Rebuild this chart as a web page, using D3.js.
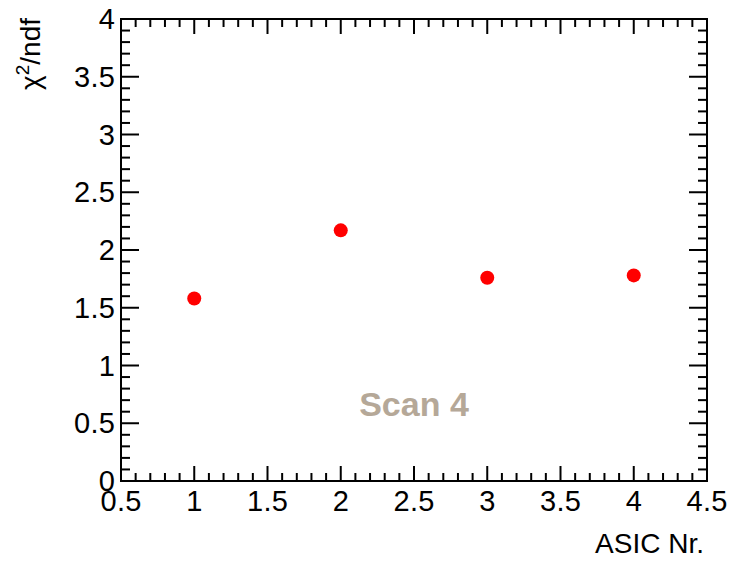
<!DOCTYPE html>
<meta charset="utf-8">
<style>
body { margin: 0; background: white; }
text { font-family: "Liberation Sans", Arial, sans-serif; }
</style>
<body>
<script src="https://d3js.org/d3.v7.min.js"></script>
<script>

var asic = [1, 2, 3, 4];
var chi2ndf = [1.58, 2.17, 1.76, 1.78];
var xTicks = [0.5, 1, 1.5, 2, 2.5, 3, 3.5, 4, 4.5];
var yTicks = [0, 0.5, 1, 1.5, 2, 2.5, 3, 3.5, 4];

var width = 729, height = 561;
var margin = {top: 19, right: 22, bottom: 80, left: 121};

var svg = d3.select("body").append("svg")
    .attr("width", width)
    .attr("height", height);

var x = d3.scaleLinear().domain([0.5, 4.5]).range([margin.left, width - margin.right]);
var y = d3.scaleLinear().domain([0, 4]).range([height - margin.bottom, margin.top]);

var minorX = d3.range(0.5, 4.5001, 0.1);
var minorY = d3.range(0, 4.0001, 0.1);

function isMajor(v) { return Math.abs(v * 2 - Math.round(v * 2)) < 1e-6; }

var ax = svg.append("g").attr("stroke", "black").attr("stroke-width", 2);

// bottom and top ticks
minorX.forEach(function(v) {
  var len = isMajor(v) ? 15 : 8;
  ax.append("line").attr("x1", x(v)).attr("x2", x(v))
    .attr("y1", y(0)).attr("y2", y(0) - len);
  ax.append("line").attr("x1", x(v)).attr("x2", x(v))
    .attr("y1", y(4)).attr("y2", y(4) + len);
});
// left and right ticks
minorY.forEach(function(v) {
  var len = isMajor(v) ? 18 : 9;
  ax.append("line").attr("y1", y(v)).attr("y2", y(v))
    .attr("x1", x(0.5)).attr("x2", x(0.5) + len);
  ax.append("line").attr("y1", y(v)).attr("y2", y(v))
    .attr("x1", x(4.5)).attr("x2", x(4.5) - len);
});

svg.append("rect")
    .attr("x", x(0.5)).attr("y", y(4))
    .attr("width", x(4.5) - x(0.5)).attr("height", y(0) - y(4))
    .attr("fill", "none").attr("stroke", "black").attr("stroke-width", 2);

svg.selectAll(".xl").data(xTicks).enter().append("text")
    .attr("x", function(d) { return x(d); })
    .attr("y", y(0) + 30)
    .attr("text-anchor", "middle")
    .attr("font-size", 29)
    .attr("textLength", function(d) { return d % 1 ? 41 : null; })
    .text(function(d) { return d; });

svg.selectAll(".yl").data(yTicks).enter().append("text")
    .attr("x", x(0.5) - 6)
    .attr("y", function(d) { return y(d) + 10; })
    .attr("text-anchor", "end")
    .attr("font-size", 29)
    .attr("textLength", function(d) { return d % 1 ? 41 : null; })
    .text(function(d) { return d; });

svg.append("text")
    .attr("x", 704)
    .attr("y", 553)
    .attr("text-anchor", "end")
    .attr("font-size", 28)
    .text("ASIC Nr.");

var yl = svg.append("text")
    .attr("transform", "translate(40,18) rotate(-90)")
    .attr("text-anchor", "end")
    .attr("font-size", 28);
yl.append("tspan").text("χ");
yl.append("tspan").attr("font-size", 19).attr("dy", -11).text("2");
yl.append("tspan").attr("dy", 11).text("/ndf");

svg.append("text")
    .attr("x", x(2.5))
    .attr("y", y(0.56))
    .attr("text-anchor", "middle")
    .attr("font-size", 34)
    .attr("font-weight", "bold")
    .attr("fill", "#b5a898")
    .text("Scan 4");

svg.selectAll(".pt").data(asic).enter().append("circle")
    .attr("cx", function(d) { return x(d); })
    .attr("cy", function(d, i) { return y(chi2ndf[i]); })
    .attr("r", 7)
    .attr("fill", "red");

</script>
</body>
